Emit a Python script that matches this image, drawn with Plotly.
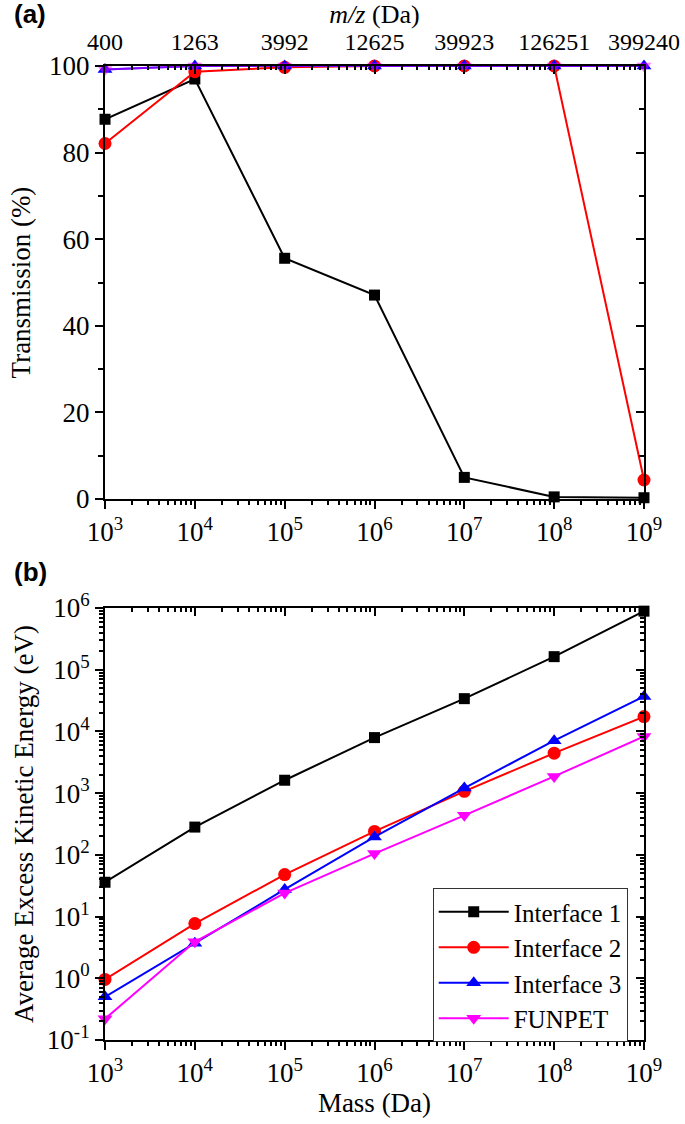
import plotly.graph_objects as go

# ---------------- data ----------------
mass = [1e3, 1e4, 1e5, 1e6, 1e7, 1e8, 1e9]
mass_ticktext = ["10<sup>3</sup>", "10<sup>4</sup>", "10<sup>5</sup>", "10<sup>6</sup>",
                 "10<sup>7</sup>", "10<sup>8</sup>", "10<sup>9</sup>"]
mz_ticktext = ["400", "1263", "3992", "12625", "39923", "126251", "399240"]

trans_ticks = [0, 20, 40, 60, 80, 100]
ke_ticks = [1e-1, 1e0, 1e1, 1e2, 1e3, 1e4, 1e5, 1e6]
ke_ticktext = ["10<sup>-1</sup>", "10<sup>0</sup>", "10<sup>1</sup>", "10<sup>2</sup>",
               "10<sup>3</sup>", "10<sup>4</sup>", "10<sup>5</sup>", "10<sup>6</sup>"]

series_names = ["Interface 1", "Interface 2", "Interface 3", "FUNPET"]

trans_if1 = [87.7, 97.0, 55.6, 47.1, 5.0, 0.5, 0.3]
trans_if2 = [82.1, 98.7, 99.7, 100.0, 100.0, 100.0, 4.4]
trans_if3 = [99.2, 100.0, 100.0, 100.0, 100.0, 100.0, 100.0]
trans_funpet = [99.2, 100.0, 100.0, 100.0, 100.0, 100.0, 100.0]

ke_if1 = [36, 282, 1620, 7950, 34000, 163000, 890000]
ke_if2 = [0.96, 7.7, 48, 240, 1070, 4450, 17400]
ke_if3 = [0.5, 3.7, 27.5, 195, 1210, 7100, 37000]
ke_funpet = [0.22, 3.9, 24, 105, 437, 1870, 8300]

# ---------------- styles ----------------
colors = ["#000000", "#ff0000", "#0000ff", "#ff00ff"]
symbols = ["square", "circle", "triangle-up", "triangle-down"]
msizes = [11, 13, 13, 13]
FONT = "Liberation Serif"

XR = [2.9999, 9.0001]   # log range (tiny pad so edge markers are not dropped)

fig = go.Figure()

trans_data = [trans_if1, trans_if2, trans_if3, trans_funpet]
ke_data = [ke_if1, ke_if2, ke_if3, ke_funpet]

# panel (a)
for i, ys in enumerate(trans_data):
    fig.add_trace(go.Scatter(
        x=mass, y=ys, name=series_names[i], mode="lines+markers",
        line=dict(color=colors[i], width=2),
        marker=dict(symbol=symbols[i], size=msizes[i], color=colors[i], line=dict(width=0)),
        opacity=0.5 if i == 3 else 1.0,
        cliponaxis=False, showlegend=False, xaxis="x", yaxis="y"))

# panel (b)
for i, ys in enumerate(ke_data):
    fig.add_trace(go.Scatter(
        x=mass, y=ys, name=series_names[i], mode="lines+markers",
        line=dict(color=colors[i], width=2),
        marker=dict(symbol=symbols[i], size=msizes[i], color=colors[i], line=dict(width=0)),
        cliponaxis=False, showlegend=True, xaxis="x2", yaxis="y2"))

# invisible helpers so that mirrored (top/right) axes are drawn
fig.add_trace(go.Scatter(x=mass, y=trans_if1, mode="lines", xaxis="x3", yaxis="y3",
                         line=dict(width=0, color="rgba(0,0,0,0)"), showlegend=False, hoverinfo="skip"))
fig.add_trace(go.Scatter(x=mass, y=ke_if1, mode="lines", xaxis="x4", yaxis="y4",
                         line=dict(width=0, color="rgba(0,0,0,0)"), showlegend=False, hoverinfo="skip"))

tickfont = dict(family=FONT, size=27, color="black")
topfont = dict(family=FONT, size=24, color="black")
titlefont = dict(family=FONT, size=27, color="black")

common_axis = dict(showline=True, linecolor="black", linewidth=2, showgrid=False,
                   zeroline=False, tickcolor="black", tickwidth=2, tickfont=tickfont,
                   automargin=False)

dom_a = [0.5554, 1.0]
dom_b = [0.0, 0.4435]

minor_out_log = dict(ticks="outside", ticklen=4, dtick="D1", tickcolor="black", tickwidth=1.5)
minor_in_log = dict(ticks="inside", ticklen=4, dtick="D1", tickcolor="black", tickwidth=1.5)

fig.update_layout(
    width=685, height=1124,
    margin=dict(l=105, r=41, t=66, b=84),
    paper_bgcolor="white", plot_bgcolor="white",
    font=dict(family=FONT, color="black"),
    showlegend=True,
    legend=dict(x=0.608, y=0.156, xref="paper", yref="paper", xanchor="left", yanchor="top",
                bordercolor="#333333", borderwidth=1, bgcolor="white",
                font=dict(family=FONT, size=25, color="black"),
                itemwidth=70, tracegroupgap=0),
    # panel (a)
    xaxis=dict(common_axis, type="log", range=XR, domain=[0, 1], anchor="y",
               tickvals=mass, ticktext=mass_ticktext, ticks="outside", ticklen=8,
               minor=minor_out_log),
    yaxis=dict(common_axis, range=[0, 100], domain=dom_a, anchor="x",
               tickvals=trans_ticks, ticks="outside", ticklen=8,
               minor=dict(ticks="outside", ticklen=5, dtick=10, tickcolor="black", tickwidth=1.5),
               title=dict(text="Transmission (%)", font=titlefont, standoff=11)),
    xaxis3=dict(common_axis, type="log", range=XR, overlaying="x", anchor="y3", side="top",
                tickvals=mass, ticktext=mz_ticktext, ticks="inside", ticklen=8, tickfont=topfont,
                ticklabelstandoff=4, minor=minor_in_log,
                title=dict(text="<i>m/z</i> (Da)", font=dict(family=FONT, size=26, color="black"),
                           standoff=6)),
    yaxis3=dict(common_axis, range=[0, 100], overlaying="y", anchor="x3", side="right",
                tickvals=trans_ticks, ticks="inside", ticklen=8, showticklabels=False,
                minor=dict(ticks="inside", ticklen=5, dtick=10, tickcolor="black", tickwidth=1.5)),
    # panel (b)
    xaxis2=dict(common_axis, type="log", range=XR, domain=[0, 1], anchor="y2",
                tickvals=mass, ticktext=mass_ticktext, ticks="outside", ticklen=8,
                minor=minor_out_log,
                title=dict(text="Mass (Da)", font=titlefont, standoff=4)),
    yaxis2=dict(common_axis, type="log", range=[-1, 6], domain=dom_b, anchor="x2",
                tickvals=ke_ticks, ticktext=ke_ticktext, ticks="outside", ticklen=8,
                minor=minor_out_log,
                title=dict(text="Average Excess Kinetic Energy (eV)", font=titlefont, standoff=5)),
    xaxis4=dict(common_axis, type="log", range=XR, overlaying="x2", anchor="y4", side="top",
                tickvals=mass, ticks="inside", ticklen=8, showticklabels=False,
                minor=minor_in_log),
    yaxis4=dict(common_axis, type="log", range=[-1, 6], overlaying="y2", anchor="x4", side="right",
                tickvals=ke_ticks, ticks="inside", ticklen=8, showticklabels=False,
                minor=minor_in_log),
    annotations=[
        dict(text="<b>(a)</b>", x=-0.139, y=1.053, xref="paper", yref="paper",
             showarrow=False, xanchor="center", yanchor="middle",
             font=dict(family="Liberation Sans", size=26, color="black")),
        dict(text="<b>(b)</b>", x=-0.139, y=0.4805, xref="paper", yref="paper",
             showarrow=False, xanchor="center", yanchor="middle",
             font=dict(family="Liberation Sans", size=26, color="black")),
    ],
)

# remove the browser's default 8 px body margin so the figure fills the window exactly
fig.write_html("out.html", config={"displayModeBar": False},
               post_script="document.body.style.margin='0px';")
